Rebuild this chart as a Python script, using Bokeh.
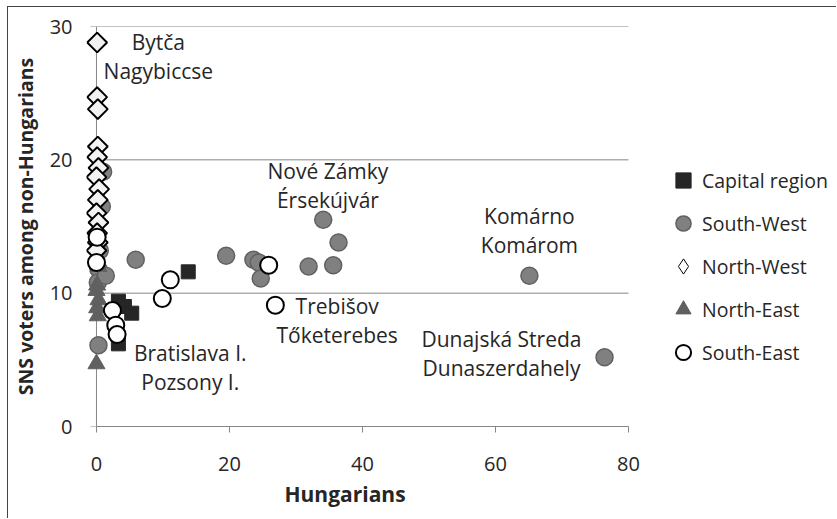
import numpy as np
from bokeh.plotting import figure
from bokeh.models import FixedTicker, Legend, LegendItem, ColumnDataSource, Title
from bokeh.core.properties import value
from bokeh.embed import file_html
from bokeh.resources import INLINE

# ---- data ----
cap_x = [13.8, 3.3, 4.2, 5.3, 3.3]
cap_y = [11.6, 9.4, 9.0, 8.5, 6.2]

sw_x = [76.4, 65.1, 34.1, 36.4, 31.9, 35.6, 19.5, 23.6, 24.4, 24.7, 5.9, 0.3, 1.0, 0.8, 0.5, 0.3, 0.2, 1.4]
sw_y = [5.2, 11.3, 15.5, 13.8, 12.0, 12.1, 12.8, 12.5, 12.3, 11.1, 12.5, 6.1, 19.1, 16.5, 13.2, 11.8, 10.8, 11.3]

nw_x = [0.1, 0.1, 0.2, 0.2, 0.1, 0.3, 0.0, 0.4, 0.2, 0.0, 0.3, 0.1, 0.2, 0.0]
nw_y = [28.8, 24.7, 23.8, 21.0, 20.2, 19.4, 18.7, 17.8, 17.0, 16.0, 15.3, 14.5, 13.8, 13.2]

ne_x = [0.0, 0.2, 0.1, 0.3, 0.0, 0.1, 0.3]
ne_y = [4.7, 8.3, 8.9, 9.5, 10.2, 10.6, 12.0]

se_x = [26.9, 25.9, 11.1, 9.9, 2.4, 2.9, 3.1, 0.1, 0.0]
se_y = [9.1, 12.1, 11.0, 9.6, 8.7, 7.6, 6.9, 14.2, 12.3]

series_names = ["Capital region", "South-West", "North-West", "North-East", "South-East"]

x_ticks = [0, 20, 40, 60, 80]
y_ticks = [0, 10, 20, 30]

x_title = "Hungarians"
y_title = "SNS voters among non-Hungarians"

label_line1 = ["Bytča", "Nové Zámky", "Komárno", "Trebišov", "Bratislava I.", "Dunajská Streda"]
label_line2 = ["Nagybiccse", "Érsekújvár", "Komárom", "Tőketerebes", "Pozsony I.", "Dunaszerdahely"]
label_x = [9.3, 34.8, 65.1, 36.2, 14.1, 60.9]
label_y = [27.75, 18.1, 14.7, 7.95, 4.4, 5.5]

FONT = "Open Sans"
TXT = "#262626"
AX = "#868686"

p = figure(width=836, height=518, x_range=(-1.5, 111.28), y_range=(0, 30),
           min_border_left=86, min_border_top=26, min_border_right=0, min_border_bottom=92,
           output_backend="svg", toolbar_location=None, tools="")
# thin chart border on the left and top (as in the reference picture)
p.styles = {
    "background-color": "white",
    "background-image": "linear-gradient(#444444, #444444), linear-gradient(#444444, #444444)",
    "background-size": "1px 100%, 100% 1px",
    "background-position": "7px 6px, 7px 6px",
    "background-repeat": "no-repeat",
}
p.border_fill_color = None
p.outline_line_color = None
p.background_fill_color = "white"

p.xgrid.grid_line_color = None
p.ygrid.grid_line_color = None

for ax in (p.xaxis[0], p.yaxis[0]):
    ax.major_label_text_font = FONT
    ax.major_label_text_font_size = "20px"
    ax.major_label_text_color = TXT
    ax.axis_label_text_font = FONT
    ax.axis_label_text_font_style = "bold"
    ax.axis_label_text_color = TXT
    ax.minor_tick_line_color = None

p.xaxis.axis_line_color = AX
p.xaxis.major_tick_line_color = AX
p.xaxis.major_tick_out = 6
p.xaxis.major_tick_in = 0
p.xaxis.bounds = (0, 80)
p.xaxis.ticker = FixedTicker(ticks=x_ticks)
p.xaxis.major_label_standoff = 24

# y axis: labels only, line/ticks drawn at x = 0 below
p.yaxis.axis_line_color = None
p.yaxis.major_tick_line_color = None
p.yaxis.major_tick_out = 0
p.yaxis.major_tick_in = 0
p.yaxis.ticker = FixedTicker(ticks=y_ticks)
p.yaxis.axis_label = y_title
p.yaxis.axis_label_text_font_size = "19.5px"
p.yaxis.major_label_standoff = 14
p.yaxis.axis_label_standoff = 8

# x axis title, placed under the plot area
p.add_layout(Title(text=x_title, align="left", offset=198, standoff=8,
                   text_font=FONT, text_font_size="21px", text_font_style="bold",
                   text_color=TXT), "below")

x0 = x_ticks[0]
x1 = x_ticks[-1]
# y axis line and outward ticks at x = 0
p.segment(x0=[x0], x1=[x0], y0=[y_ticks[0]], y1=[y_ticks[-1]], line_color=AX, line_width=1)
p.segment(x0=[x0 - 0.9] * len(y_ticks), x1=[x0] * len(y_ticks), y0=y_ticks, y1=y_ticks,
          line_color=AX, line_width=1)
# horizontal gridlines
g_y = [t for t in y_ticks if t > 0]
p.segment(x0=[x0] * len(g_y), x1=[x1] * len(g_y), y0=g_y, y1=g_y, line_color=AX, line_width=1)

r_cap = p.scatter(cap_x, cap_y, marker="square", size=14, fill_color="#262626",
                  line_color="#262626", line_width=1)
r_sw = p.scatter(sw_x, sw_y, marker="circle", size=17, fill_color="#808080",
                 line_color="#606060", line_width=1.5)
# legend glyph for North-West (thin diamond); hidden under the plotted diamonds
r_nw_leg = p.scatter(nw_x, nw_y, marker="diamond", size=15, fill_color="#ffffff",
                     line_color="#000000", line_width=1)
r_nw = p.scatter(nw_x, nw_y, marker="square", angle=np.pi / 4, size=14, fill_color="#f2f2f2",
                 line_color="#000000", line_width=2)
r_ne = p.scatter(ne_x, ne_y, marker="triangle", size=17, fill_color="#606060",
                 line_color="#606060", line_width=1)
r_se = p.scatter(se_x, se_y, marker="circle", size=17, fill_color="#ffffff",
                 line_color="#000000", line_width=2)

lab_src = ColumnDataSource(dict(x=label_x, y=label_y, t1=label_line1, t2=label_line2))
for col, off in (("t1", -14.5), ("t2", 14.5)):
    p.text(x="x", y="y", text=col, source=lab_src, text_font=value(FONT), text_font_size="21px",
           text_color=TXT, text_align="center", text_baseline="middle", y_offset=off)

legend = Legend(items=[LegendItem(label=n, renderers=[r]) for n, r in
                       zip(series_names, [r_cap, r_sw, r_nw_leg, r_ne, r_se])],
                location=(578, 53), orientation="vertical")
legend.border_line_color = None
legend.background_fill_alpha = 0
legend.padding = 0
legend.margin = 0
legend.spacing = 1
legend.glyph_width = 38
legend.glyph_height = 42
legend.label_height = 42
legend.label_standoff = 0
legend.label_text_font = FONT
legend.label_text_font_size = "19.5px"
legend.label_text_color = TXT
legend.label_text_baseline = "middle"
p.add_layout(legend, "center")

open("out.html", "w").write(file_html(p, INLINE))
